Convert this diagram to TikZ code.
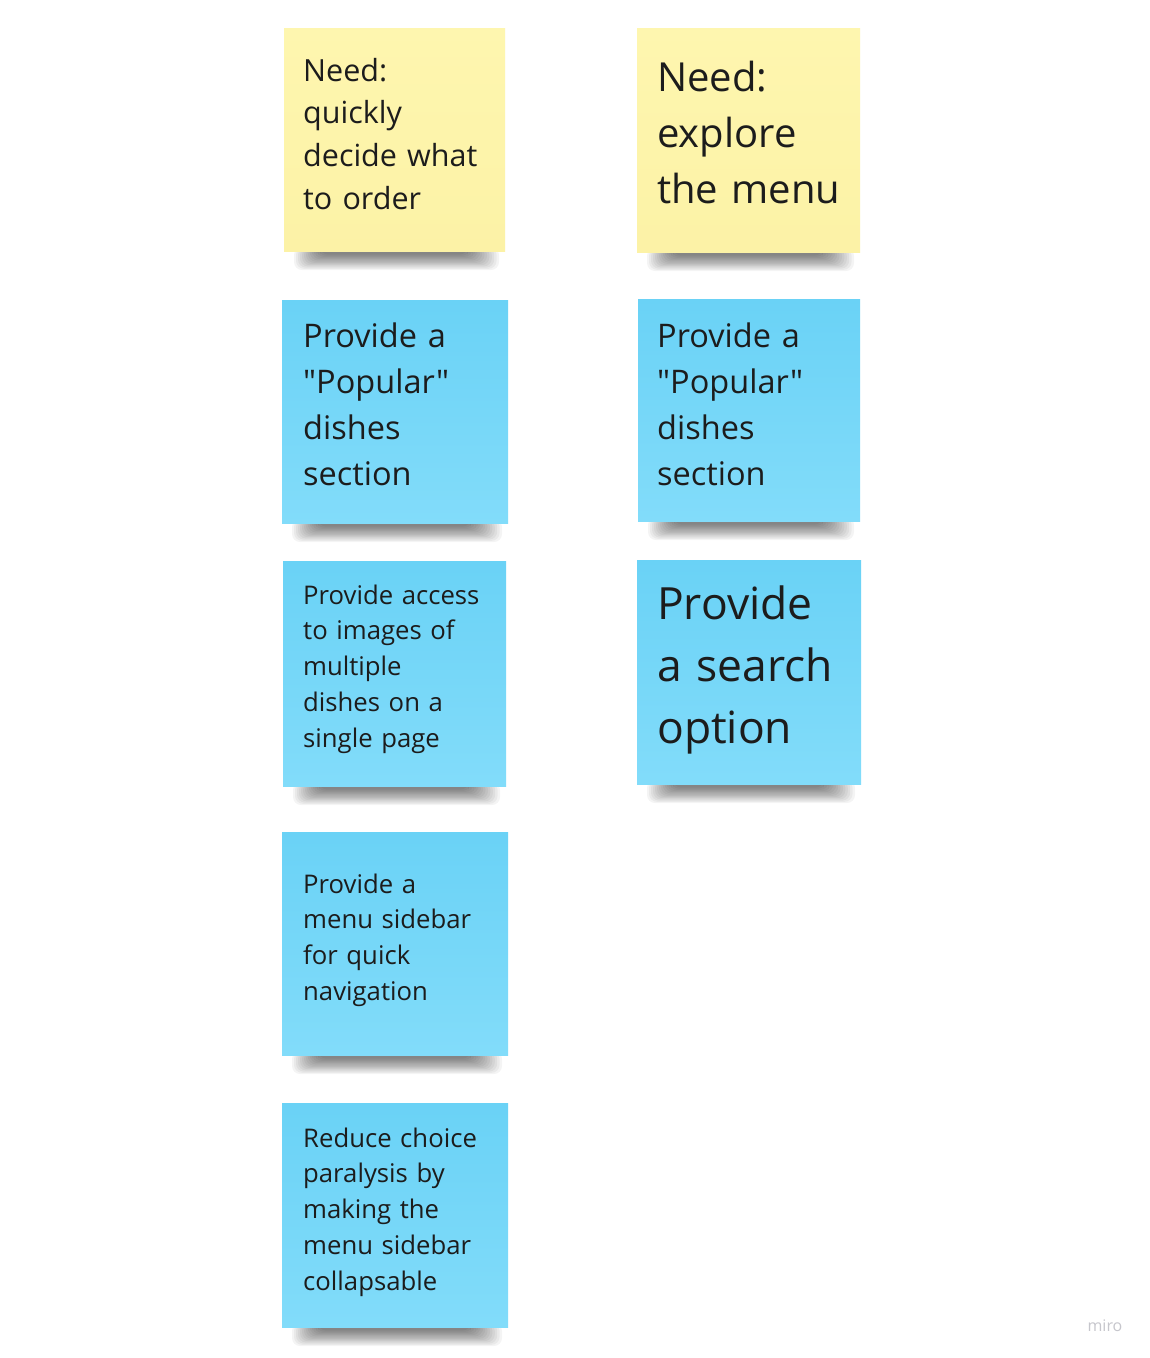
\documentclass[tikz,border=0pt]{standalone}
\usepackage{fontspec}
% TeXOff keeps the straight double quotes straight
\setmainfont{Open Sans}[Ligatures=TeXOff]
\definecolor{noteyellow}{HTML}{FEF6AF}
\definecolor{noteyellowlow}{HTML}{FCF2A6}
\definecolor{notebluetop}{HTML}{6AD2F6}
\definecolor{noteblueLow}{HTML}{82DCFA}
\definecolor{inktext}{HTML}{1C1C1C}
\definecolor{brandgray}{HTML}{C6C6CC}
% soft shadow strip under the lower edge of a note: left x, right x, bottom y
\newcommand\noteshadow[3]{%
  \foreach \k in {0,...,13}{%
    \fill[black, opacity=0.042, rounded corners=8pt]
      (#1+10+\k*2.0, #3-4) rectangle (#2-6-\k*2.4, #3+19-\k*1.2);
  }%
}
\tikzset{
  stickybase/.style={rectangle, inner sep=0pt, draw=none, anchor=north west},
  yellownote/.style={stickybase, top color=noteyellow, bottom color=noteyellowlow},
  bluenote/.style={stickybase, top color=notebluetop, bottom color=noteblueLow},
  notetext/.style={anchor=base west, inner sep=0pt, align=left, text width=240pt, text=inktext},
}
\begin{document}
\begin{tikzpicture}[x=1pt, y=-1pt]
\useasboundingbox[fill=white] (0,0) rectangle (1150,1358);

% shadows first, so the notes sit on top of them
\noteshadow{284}{505}{251}
\noteshadow{637}{860}{252}
\noteshadow{282}{508}{523}
\noteshadow{638}{860}{521}
\noteshadow{283}{506}{786}
\noteshadow{637}{861}{784}
\noteshadow{282}{508}{1055}
\noteshadow{282}{508}{1327}

% left column
\node[yellownote, minimum width=221pt, minimum height=223pt] (needA) at (284,28) {};
\node[notetext, font=\fontsize{30.5}{42.7}\selectfont] (needAtxt) at (303,81)
  {Need:\\quickly\\decide what\\to order};

\node[bluenote, minimum width=226pt, minimum height=223pt] (popA) at (282,300) {};
\node[notetext, font=\fontsize{32.5}{46}\selectfont] (popAtxt) at (303,347)
  {Provide a\\"Popular"\\dishes\\section};

\node[bluenote, minimum width=223pt, minimum height=225pt] (images) at (283,561) {};
\node[notetext, font=\fontsize{25.7}{35.8}\selectfont] (imagestxt) at (303,604)
  {Provide access\\to images of\\multiple\\dishes on a\\single page};

\node[bluenote, minimum width=226pt, minimum height=223pt] (sidebar) at (282,832) {};
\node[notetext, font=\fontsize{25.7}{35.8}\selectfont] (sidebartxt) at (303,893)
  {Provide a\\menu sidebar\\for quick\\navigation};

\node[bluenote, minimum width=226pt, minimum height=224pt] (collapse) at (282,1103) {};
\node[notetext, font=\fontsize{25.7}{35.8}\selectfont] (collapsetxt) at (303,1147)
  {Reduce choice\\paralysis by\\making the\\menu sidebar\\collapsable};

% right column
\node[yellownote, minimum width=223pt, minimum height=224pt] (needB) at (637,28) {};
\node[notetext, font=\fontsize{40}{56}\selectfont] (needBtxt) at (657,91)
  {Need:\\explore\\the menu};

\node[bluenote, minimum width=222pt, minimum height=222pt] (popB) at (638,299) {};
\node[notetext, font=\fontsize{32.5}{46}\selectfont] (popBtxt) at (657,347)
  {Provide a\\"Popular"\\dishes\\section};

\node[bluenote, minimum width=224pt, minimum height=224pt] (search) at (637,560) {};
\node[notetext, font=\fontsize{44.4}{62}\selectfont] (searchtxt) at (657,619)
  {Provide\\a search\\option};

% board watermark
\node[text=brandgray, font=\fontsize{16}{18}\selectfont, inner sep=0pt] (brand) at (1105,1326) {miro};
\end{tikzpicture}
\end{document}
